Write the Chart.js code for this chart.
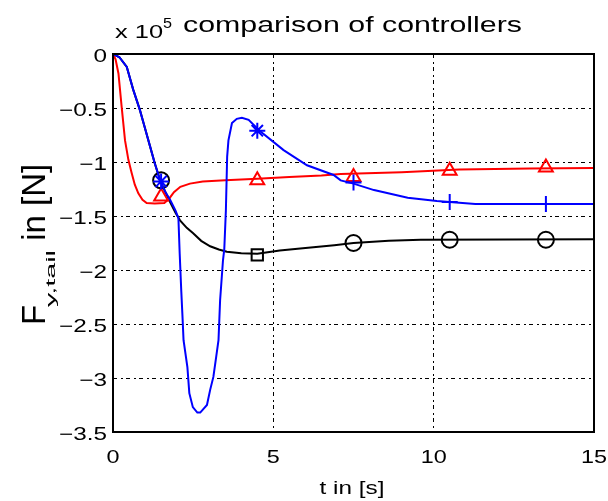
<!DOCTYPE html>
<html>
<head>
<meta charset="utf-8">
<script src="https://cdn.jsdelivr.net/npm/chart.js@4.4.0/dist/chart.umd.min.js"></script>
<style>
    html, body { margin: 0; padding: 0; background: #fff; }
    canvas { display: block; }
</style>
</head>
<body>
<canvas id="grafico" width="608" height="501"></canvas>
<script>
// valores en unidades de 10^5 N

// controlador rojo
const tRed = [0, 0.08, 0.17, 0.27, 0.375, 0.48, 0.58, 0.68, 0.79, 0.92, 1.05, 1.3, 1.6, 1.75, 1.9, 2.1, 2.4, 2.8, 3.5, 4.5, 5.5, 6.5, 7.1, 9.0, 10.8, 13.0, 15];
const fRed = [0, -0.05, -0.18, -0.49, -0.80, -0.98, -1.10, -1.21, -1.29, -1.35, -1.38, -1.385, -1.38, -1.34, -1.28, -1.23, -1.20, -1.18, -1.17, -1.155, -1.14, -1.125, -1.11, -1.095, -1.07, -1.06, -1.055];

// controlador azul
const tBlue = [0, 0.2, 0.43, 0.63, 0.84, 1.0, 1.16, 1.3, 1.47, 1.62, 1.78, 1.95, 2.04, 2.08, 2.13, 2.17, 2.2, 2.32, 2.38, 2.49, 2.63, 2.72, 2.93, 3.03, 3.13, 3.22, 3.29, 3.34, 3.43, 3.47, 3.52, 3.56, 3.6, 3.71, 3.86, 4.02, 4.23, 4.57, 5.32, 6.05, 6.88, 7.1, 7.5, 8.14, 9.19, 10.1, 11.3, 15];
const fBlue = [0, -0.03, -0.12, -0.33, -0.52, -0.69, -0.86, -1.01, -1.17, -1.27, -1.35, -1.45, -1.52, -1.85, -2.2, -2.45, -2.65, -2.9, -3.14, -3.27, -3.32, -3.32, -3.25, -3.11, -2.99, -2.80, -2.65, -2.28, -1.91, -1.81, -1.45, -0.95, -0.8, -0.64, -0.60, -0.59, -0.61, -0.71, -0.89, -1.03, -1.12, -1.17, -1.20, -1.26, -1.33, -1.36, -1.39, -1.39];

// controlador negro
const tBlack = [0, 0.2, 0.43, 0.63, 0.84, 1.0, 1.16, 1.3, 1.47, 1.62, 1.78, 1.95, 2.09, 2.3, 2.5, 2.75, 3.03, 3.3, 3.55, 4.0, 4.5, 5.2, 5.84, 6.9, 7.5, 8.6, 9.6, 15];
const fBlack = [0, -0.03, -0.12, -0.33, -0.52, -0.69, -0.86, -1.01, -1.17, -1.27, -1.37, -1.47, -1.54, -1.61, -1.66, -1.73, -1.78, -1.81, -1.83, -1.845, -1.85, -1.82, -1.80, -1.77, -1.75, -1.73, -1.72, -1.715];

// marcadores cada 3 s
const tMarks = [1.5, 4.5, 7.5, 10.5, 13.5];
const redMarks = [-1.32, -1.17, -1.14, -1.08, -1.05];
const blueMarks = [-1.18, -0.71, -1.19, -1.37, -1.39];
const blackMarks = [-1.17, -1.86, -1.75, -1.72, -1.72];

// ejes
const ticksX = [0, 5, 10, 15];
const ticksY = [0, -0.5, -1, -1.5, -2, -2.5, -3, -3.5];

const FONT = '"Liberation Sans", Arial, sans-serif';

function toPoints(ts, vs) {
    return ts.map((t, i) => ({ x: t, y: vs[i] }));
}

// texto ensanchado horizontalmente, como en la figura original
function stretchText(ctx, text, x, y, size, sx, align) {
    ctx.font = size + 'px ' + FONT;
    const w = ctx.measureText(text).width * sx;
    let x0 = x;
    if (align === 'center') x0 = x - w / 2;
    else if (align === 'right') x0 = x - w;
    ctx.save();
    ctx.translate(x0, y);
    ctx.scale(sx, 1);
    ctx.textAlign = 'left';
    ctx.textBaseline = 'alphabetic';
    ctx.fillText(text, 0, 0);
    ctx.restore();
}

function fitText(ctx, text, x0, x1, y, size) {
    ctx.font = size + 'px ' + FONT;
    const sx = (x1 - x0) / ctx.measureText(text).width;
    stretchText(ctx, text, x0, y, size, sx, 'left');
}

function tickLabel(v) {
    return v === 0 ? '0' : (v < 0 ? '\u2212' : '') + Math.abs(v);
}

const textos = {
    id: 'textos',
    afterDraw(chart) {
        const ctx = chart.ctx;
        const area = chart.chartArea;
        const sx = chart.scales.x;
        const sy = chart.scales.y;
        ctx.save();
        ctx.fillStyle = '#000';
        ctx.strokeStyle = '#000';

        // marco
        ctx.lineWidth = 2;
        ctx.setLineDash([]);
        ctx.strokeRect(area.left, area.top, area.right - area.left, area.bottom - area.top);

        // etiquetas de los ejes
        sy.ticks.forEach(t => {
            stretchText(ctx, tickLabel(t.value), 107, sy.getPixelForValue(t.value) + 8, 18, 1.35, 'right');
        });
        sx.ticks.forEach(t => {
            stretchText(ctx, tickLabel(t.value), sx.getPixelForValue(t.value), 463, 18, 1.3, 'center');
        });

        stretchText(ctx, 't in [s]', 352, 494, 18, 1.35, 'center');

        // titulo y exponente
        fitText(ctx, 'comparison of controllers', 183, 522, 32, 22);
        fitText(ctx, 'x 10', 115, 163, 38, 18);
        fitText(ctx, '5', 163, 172, 28, 14);

        // etiqueta vertical F_{y,tail} in [N]
        ctx.save();
        ctx.translate(45, 325);
        ctx.rotate(-Math.PI / 2);
        ctx.font = '33px ' + FONT;
        ctx.textAlign = 'left';
        ctx.fillText('F', 0, 0);
        fitText(ctx, 'y,tail', 18, 75, 10, 13);
        ctx.font = '33px ' + FONT;
        ctx.fillText(' in [N]', 75, 0);
        ctx.restore();

        ctx.restore();
    }
};

function lineSet(data, color) {
    return {
        data: data,
        showLine: true,
        borderColor: color,
        borderWidth: 2,
        pointRadius: 0,
        tension: 0,
        fill: false
    };
}

function markSet(data, color, style) {
    return {
        data: data,
        showLine: false,
        borderColor: color,
        backgroundColor: 'rgba(0,0,0,0)',
        borderWidth: 2,
        pointRadius: 8,
        pointStyle: style,
        clip: false
    };
}

const ctx = document.getElementById('grafico').getContext('2d');
new Chart(ctx, {
    type: 'scatter',
    data: {
        datasets: [
            lineSet(toPoints(tBlue, fBlue), '#0000ff'),
            markSet(toPoints(tMarks, blueMarks), '#0000ff', ['star', 'star', 'cross', 'cross', 'cross']),
            lineSet(toPoints(tRed, fRed), '#ff0000'),
            markSet(toPoints(tMarks, redMarks), '#ff0000', 'triangle'),
            lineSet(toPoints(tBlack, fBlack), '#000000'),
            markSet(toPoints(tMarks, blackMarks), '#000000', ['circle', 'rect', 'circle', 'circle', 'circle'])
        ]
    },
    options: {
        responsive: false,
        animation: false,
        devicePixelRatio: 1,
        layout: { padding: { left: 113, right: 14, top: 54, bottom: 69 } },
        scales: {
            x: {
                type: 'linear',
                min: 0,
                max: 15,
                afterBuildTicks: s => { s.ticks = ticksX.map(v => ({ value: v })); },
                ticks: { display: false },
                grid: { color: '#000', lineWidth: 1, drawTicks: false },
                border: { display: false, dash: [4, 4, 2, 3] }
            },
            y: {
                type: 'linear',
                min: -3.5,
                max: 0,
                afterBuildTicks: s => { s.ticks = ticksY.map(v => ({ value: v })); },
                ticks: { display: false },
                grid: { color: '#000', lineWidth: 1, drawTicks: false },
                border: { display: false, dash: [4, 4, 2, 3] }
            }
        },
        plugins: {
            legend: { display: false },
            tooltip: { enabled: false }
        }
    },
    plugins: [textos]
});
</script>
</body>
</html>
